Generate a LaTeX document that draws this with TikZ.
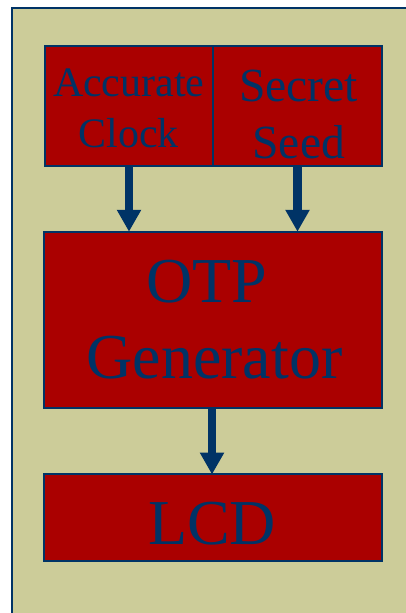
\documentclass[tikz,border=0pt]{standalone}
\usepackage{fontspec}
\setmainfont{Liberation Serif}
\usetikzlibrary{arrows.meta}
\definecolor{bgkhaki}{RGB}{204,204,153}
\definecolor{boxred}{RGB}{170,0,0}
\definecolor{navy}{RGB}{0,51,102}
\tikzset{
  blockbox/.style={draw=navy, line width=1.5pt, fill=boxred, inner sep=0pt, minimum width=#1},
  blocktext/.style={text=navy, align=center, inner sep=0pt},
  flowarrow/.style={draw=navy, line width=8.5pt, -{Triangle[width=23pt,length=22pt]}, shorten >=-0.5pt}
}
\begin{document}
\begin{tikzpicture}[x=1pt,y=-1pt]
\useasboundingbox (0,0) rectangle (405,613);
\fill[white] (0,0) rectangle (405,613);
\filldraw[fill=bgkhaki, draw=navy, line width=2pt] (12,8) rectangle (420,630);
\node[blockbox=168pt, minimum height=120pt] (clock) at (129,106) {};
\node[blockbox=169pt, minimum height=120pt] (seed) at (297.5,106) {};
\node[blockbox=338pt, minimum height=176pt] (otp) at (213,320) {};
\node[blockbox=338pt, minimum height=87pt] (lcd) at (213,517.5) {};
\node[blocktext, font=\fontsize{42}{51}\selectfont] (clocktxt) at (128.8,108.5) {Accurate\\Clock};
\node[blocktext, font=\fontsize{47.6}{57}\selectfont] (seedtxt) at (298.7,114.5) {Secret\\Seed};
\node[blocktext, font=\fontsize{64}{76}\selectfont] (otptxt) at (214.5,320) {OTP\hspace*{15pt}\\Generator};
\node[blocktext, font=\fontsize{64}{76}\selectfont] (lcdtxt) at (212,524) {LCD};
\draw[flowarrow] (clock.south) -- (clock.south |- otp.north);
\draw[flowarrow] (seed.south) -- (seed.south |- otp.north);
\draw[flowarrow] (otp.south -| 212,0) -- (212,474);
\end{tikzpicture}
\end{document}
